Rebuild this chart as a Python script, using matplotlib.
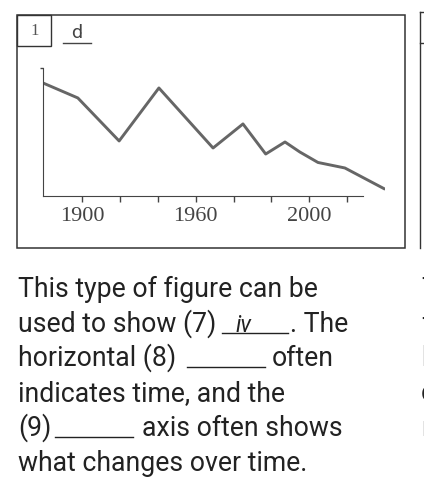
import matplotlib
matplotlib.use("Agg")
import matplotlib.pyplot as plt
from matplotlib.lines import Line2D
from matplotlib.patches import Rectangle

# line data (x in tick-interval units, y in arbitrary units)
x_vals = [-1.03, -0.11, 0.98, 2.03, 3.46, 4.25, 4.85, 5.36, 5.75, 6.23, 6.94, 7.99]
y_vals = [8.83, 7.66, 4.30, 8.44, 3.75, 5.63, 3.28, 4.22, 3.44, 2.62, 2.19, 0.55]
tick_pos = [0, 1, 2, 3, 4, 5, 6, 7]
tick_labels = ['1900', '', '', '1960', '', '', '2000', '']

W, H = 424, 487
fig = plt.figure(figsize=(W / 100, H / 100), dpi=100)


def fx(px):
    return px / W


def fy(py):
    return 1 - py / H


# outer frame and label box
box_col = '#333333'
fig.add_artist(Rectangle((fx(17), fy(248)), fx(405) - fx(17), fy(15) - fy(248),
                         fill=False, lw=1.1, ec=box_col, transform=fig.transFigure))
fig.add_artist(Rectangle((fx(17), fy(46)), fx(51) - fx(17), fy(15) - fy(46),
                         fill=False, lw=1.0, ec=box_col, transform=fig.transFigure))
fig.text(fx(35), fy(31), '1', family='Liberation Serif', fontsize=12,
         color='#555555', ha='center', va='center')
fig.text(fx(77), fy(33), 'd', family='Roboto', fontsize=14,
         color='#444444', ha='center', va='center')
fig.add_artist(Line2D([fx(63), fx(91)], [fy(43), fy(43)], lw=1.0,
                      color='#444444', transform=fig.transFigure))

# partial next panel on right edge
fig.add_artist(Line2D([fx(420), fx(420)], [fy(12), fy(248)], lw=1.0,
                      color=box_col, transform=fig.transFigure))
fig.add_artist(Line2D([fx(420), fx(430)], [fy(12), fy(12)], lw=1.0,
                      color=box_col, transform=fig.transFigure))
fig.add_artist(Line2D([fx(420), fx(430)], [fy(43), fy(43)], lw=1.0,
                      color=box_col, transform=fig.transFigure))

# chart axes
ax = fig.add_axes([fx(43), fy(196), fx(385) - fx(43), fy(68) - fy(196)])
ax.plot(x_vals, y_vals, color='#666666', lw=2.1, solid_joinstyle='round',
        solid_capstyle='round')
ax.set_xlim(-1.03, 8.0)
ax.set_ylim(0, 10)
for s in ['top', 'right']:
    ax.spines[s].set_visible(False)
ax.spines['left'].set_color('#444444')
ax.spines['bottom'].set_color('#444444')
ax.spines['bottom'].set_bounds(-1.03, 7.41)
ax.set_xticks(tick_pos)
ax.set_xticklabels(tick_labels, family='Liberation Serif', fontsize=16,
                   color='#444444')
ax.set_yticks([10])
ax.set_yticklabels([''])
ax.tick_params(axis='x', direction='out', length=4, width=1, color='#444444', pad=4)
ax.tick_params(axis='y', direction='out', length=2.5, width=1, color='#444444')
ax.patch.set_alpha(0)

# body text
font = 'Roboto'
fs = 19.2
tc = '#222222'
base = [297, 332, 366, 401, 436, 471]
fig.text(fx(18), fy(base[0]), 'This type of figure can be', family=font,
         fontsize=fs, color=tc, va='baseline')
fig.text(fx(18), fy(base[1]), 'used to show (7)', family=font, fontsize=fs,
         color=tc, va='baseline')
fig.text(fx(243), fy(base[1]), 'iv', family=font, fontsize=fs * 0.85,
         style='italic', color=tc, va='baseline', ha='center')
fig.text(fx(290), fy(base[1]), '. The', family=font, fontsize=fs, color=tc,
         va='baseline')
fig.text(fx(18), fy(base[2]), 'horizontal (8)', family=font, fontsize=fs,
         color=tc, va='baseline')
fig.text(fx(272), fy(base[2]), 'often', family=font, fontsize=fs, color=tc,
         va='baseline')
fig.text(fx(18), fy(base[3]), 'indicates time, and the', family=font,
         fontsize=fs, color=tc, va='baseline')
fig.text(fx(18), fy(base[4]), '(9)', family=font, fontsize=fs, color=tc,
         va='baseline')
fig.text(fx(142), fy(base[4]), 'axis often shows', family=font, fontsize=fs,
         color=tc, va='baseline')
fig.text(fx(18), fy(base[5]), 'what changes over time.', family=font,
         fontsize=fs, color=tc, va='baseline')

# answer blanks
for x0, x1, b in [(222, 288, base[1]), (187, 265, base[2]), (55, 133, base[4])]:
    fig.add_artist(Line2D([fx(x0), fx(x1)], [fy(b + 1), fy(b + 1)], lw=1.0,
                          color=tc, transform=fig.transFigure))

# clipped letters from next column
for ch, b in zip(['T', 'f', 'b', 'c', 'r'], base[:5]):
    fig.text(fx(421), fy(b), ch, family=font, fontsize=fs, color=tc,
             va='baseline')

fig.savefig('out.png', dpi=100)
